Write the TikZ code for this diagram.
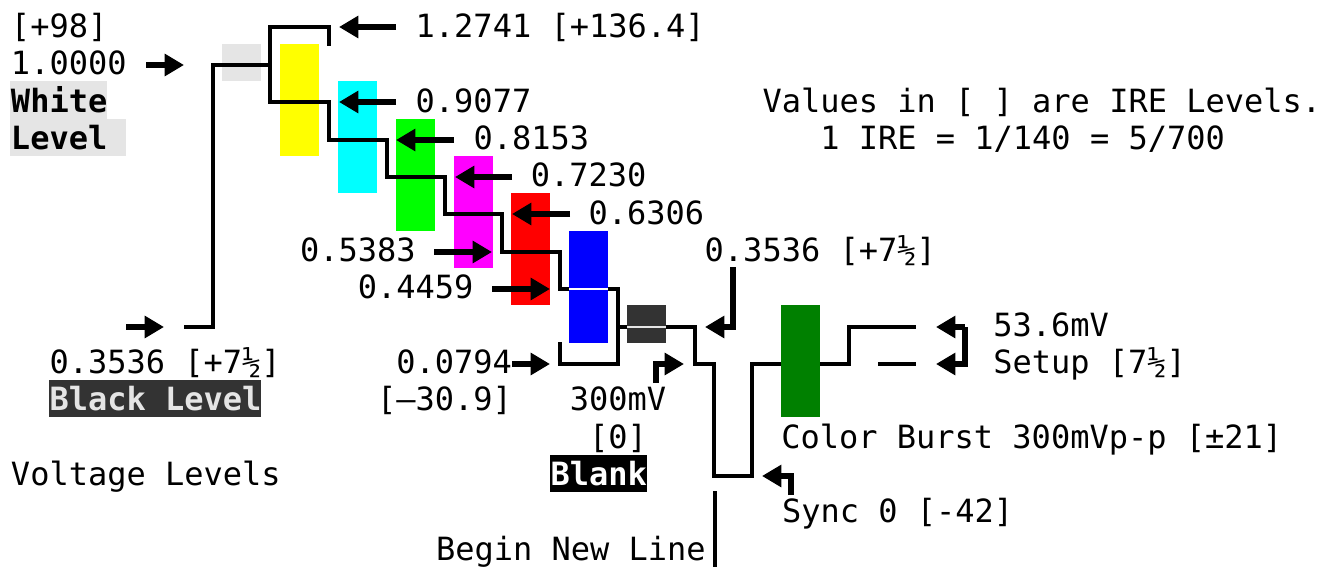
\documentclass[tikz,border=0pt]{standalone}
\usepackage{fontspec}
\setmainfont{DejaVu Sans Mono}
\usetikzlibrary{arrows.meta}
\definecolor{lightbar}{HTML}{E5E5E5}
\definecolor{darkbar}{HTML}{333333}
\definecolor{burst}{HTML}{008000}
\definecolor{pyellow}{HTML}{FFFF00}
\definecolor{pcyan}{HTML}{00FFFF}
\definecolor{pgreen}{HTML}{00FF00}
\definecolor{pmagenta}{HTML}{FF00FF}
\definecolor{pred}{HTML}{FF0000}
\definecolor{pblue}{HTML}{0000FF}
\definecolor{pblack}{HTML}{000000}
\definecolor{pwhite}{HTML}{FFFFFF}
\tikzset{
  lbl/.style={anchor=base west,inner sep=0pt,outer sep=0pt,font=\fontsize{24pt}{28pt}\selectfont,text=pblack},
  boldlbl/.style={lbl,font=\fontsize{24pt}{28pt}\selectfont\bfseries},
  bar/.style={inner sep=0pt,outer sep=0pt,minimum width=29.25pt,minimum height=84pt},
  cell/.style={inner sep=0pt,outer sep=0pt,minimum height=28pt,anchor=west},
  wave/.style={draw=pblack,line width=2.3pt,line cap=butt,line join=miter},
  gap/.style={line width=2.2pt},
  pointer/.style={draw=pblack,line width=4.8pt,-{Triangle[length=14.5pt,width=16pt]}},
}
\begin{document}
\begin{tikzpicture}[x=0.75pt,y=-0.75pt]
\fill[pwhite] (0,0) rectangle (1331,567);
\useasboundingbox (0,0) rectangle (1331,567);
% colour bars
\node[cell,fill=lightbar,minimum width=29.25pt] (greybox) at (222,62.7) {};
\node[bar,fill=pyellow] (ybar) at (299.5,100) {};
\node[bar,fill=pcyan] (cbar) at (357.5,137.3) {};
\node[bar,fill=pgreen] (gbar) at (415.5,174.7) {};
\node[bar,fill=pmagenta] (mbar) at (473.5,212) {};
\node[bar,fill=pred] (rbar) at (530.5,249.3) {};
\node[bar,fill=pblue] (bbar) at (588.5,286.7) {};
\node[cell,fill=darkbar,minimum width=29.25pt] (dbar) at (627,324) {};
% waveform
\coordinate (w0) at (184,327);
\coordinate (w1) at (213,327);
\coordinate (w2) at (213,65);
\coordinate (w3) at (270,65);
\draw[wave] (w0) -- (w1) -- (w2) -- (w3) -- (270,102) -- (329,102) -- (329,140) -- (387,140) -- (387,177) -- (445,177) -- (445,214) -- (502,214) -- (502,252) -- (560,252) -- (560,289) -- (bbar.west|-560,289);
\draw[wave] (w3) -- (270,27) -- (329,27) -- (329,46);
\draw[gap,draw=pwhite] (bbar.west|-560,289) -- (bbar.east|-560,289);
\draw[wave] (bbar.east|-560,289) -- (618,289) -- (618,364) -- (560,364) -- (560,342);
\draw[wave] (618,327) -- (dbar.west|-618,327);
\draw[gap,draw=lightbar] (dbar.west|-618,327) -- (dbar.east|-618,327);
\draw[wave] (dbar.east|-618,327) -- (695,327) -- (695,364) -- (714,364) -- (714,476) -- (752,476) -- (752,364) -- (849,364) -- (849,327) -- (916,327);
\draw[wave] (878,364) -- (916,364);
\coordinate (nl0) at (715,491);
\coordinate (nl1) at (715,567);
\draw[wave] (nl0) -- (nl1);
\node[bar,fill=burst] (burstbar) at (800.5,361.3) {};
% label backgrounds
\node[cell,fill=lightbar,minimum width=72.75pt] (whitebg) at (10,100) {};
\node[cell,fill=lightbar,minimum width=87pt] (levelbg) at (10,137.3) {};
\node[cell,fill=darkbar,minimum width=159pt] (blackbg) at (49,398.7) {};
\node[cell,fill=pblack,minimum width=72.75pt] (blankbg) at (550,473.5) {};
% labels
\node[lbl] (t98) at (11,37.5) {[+98]};
\node[lbl] (t100) at (11,74.8) {1.0000};
\node[boldlbl] (twhite) at (11,112.2) {White};
\node[boldlbl] (tlevel) at (11,149.5) {Level};
\node[lbl] (t12741) at (415.7,37.5) {1.2741 [+136.4]};
\node[lbl] (t9077) at (415.7,112.2) {0.9077};
\node[lbl] (t8153) at (473.5,149.5) {0.8153};
\node[lbl] (t7230) at (530.8,186.8) {0.7230};
\node[lbl] (t6306) at (588.6,224.2) {0.6306};
\node[lbl] (t5383) at (300,261.5) {0.5383};
\node[lbl] (t4459) at (357.9,298.8) {0.4459};
\node[lbl] (t3536r) at (704.7,261.5) {0.3536 [+7½]};
\node[lbl] (t536) at (993.3,336.1) {53.6mV};
\node[lbl] (tsetup) at (993.3,373.5) {Setup [7½]};
\node[lbl] (t0794) at (396.4,373.5) {0.0794};
\node[lbl] (t309) at (377.1,410.8) {[—30.9]};
\node[lbl] (t300) at (569.8,410.8) {300mV};
\node[lbl] (t0) at (589.1,448.1) {[0]};
\node[boldlbl,text=pwhite] (tblank) at (550.6,485.5) {Blank};
\node[lbl] (tburst) at (781.3,448.1) {Color Burst 300mVp-p [±21]};
\node[lbl] (tsync) at (782,522.8) {Sync 0 [-42]};
\node[lbl] (tvolt) at (11,485.5) {Voltage Levels};
\node[lbl] (tnew) at (436,560.1) {Begin New Line};
\node[lbl] (t3536l) at (49.5,373.5) {0.3536 [+7½]};
\node[boldlbl,text=lightbar] (tblack) at (49.5,410.8) {Black Level};
\node[lbl] (tval) at (762.5,112.2) {Values in [ ] are IRE Levels.};
\node[lbl] (tire) at (820.3,149.5) {1 IRE = 1/140 = 5/700};
% pointers
\coordinate (a1s) at (146,65);   \coordinate (a1e) at (184,65);
\coordinate (a2s) at (396,27);   \coordinate (a2e) at (339,27);
\coordinate (a3s) at (396,102);  \coordinate (a3e) at (339,102);
\coordinate (a4s) at (454,140);  \coordinate (a4e) at (396,140);
\coordinate (a5s) at (512,177);  \coordinate (a5e) at (455,177);
\coordinate (a6s) at (570,214);  \coordinate (a6e) at (512,214);
\coordinate (a7s) at (434,252);  \coordinate (a7e) at (492,252);
\coordinate (a8s) at (492,289);  \coordinate (a8e) at (550,289);
\coordinate (a9s) at (512,364);  \coordinate (a9e) at (550,364);
\coordinate (a10s) at (656,383); \coordinate (a10m) at (656,364); \coordinate (a10e) at (684,364);
\coordinate (a11s) at (733,267); \coordinate (a11m) at (733,327); \coordinate (a11e) at (705,327);
\coordinate (a12s) at (126,327); \coordinate (a12e) at (164,327);
\coordinate (a13s) at (965,327); \coordinate (a13m) at (965,364); \coordinate (a13e) at (936,364); \coordinate (a13f) at (936,327);
\coordinate (a14s) at (791,495); \coordinate (a14m) at (791,476); \coordinate (a14e) at (762,476);
\foreach \n in {1,...,9,12}{\draw[pointer] (a\n s) -- (a\n e);}
\draw[pointer] (a10s) -- (a10m) -- (a10e);
\draw[pointer] (a11s) -- (a11m) -- (a11e);
\draw[pointer] (a13s) -- (a13m) -- (a13e);
\draw[pointer] (a13s) -- (a13f);
\draw[pointer] (a14s) -- (a14m) -- (a14e);
\end{tikzpicture}
\end{document}
